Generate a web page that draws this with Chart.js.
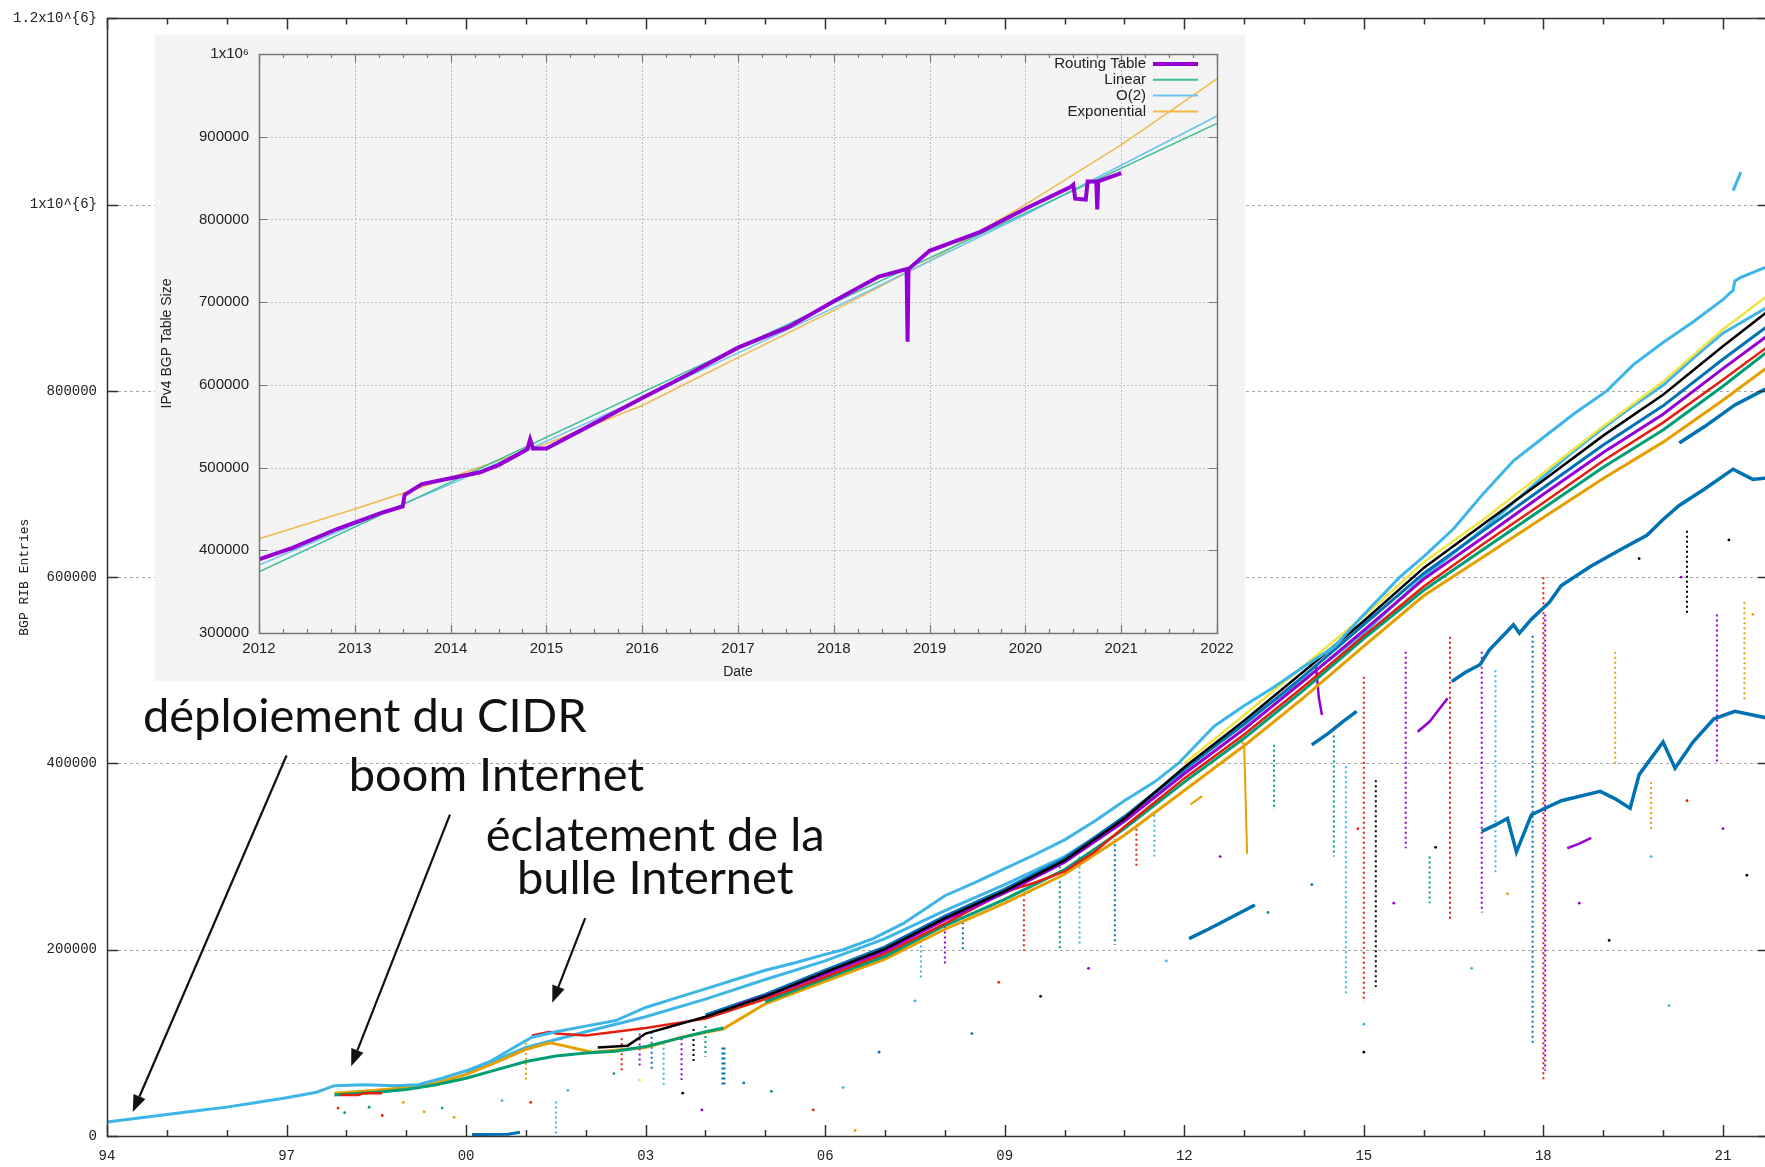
<!DOCTYPE html>
<html lang="fr">
<head>
<meta charset="utf-8">
<title>BGP RIB Entries</title>
<script src="https://cdn.jsdelivr.net/npm/chart.js@4.4.1/dist/chart.umd.min.js"></script>
<style>
  html, body { margin:0; padding:0; background:#fff; overflow:hidden; }
  #wrap { position:relative; width:1765px; height:1167px; overflow:hidden; }
  #main { position:absolute; left:0; top:0; }
  #inset { position:absolute; left:155px; top:35px; }
</style>
</head>
<body>
<div id="wrap">
  <canvas id="main" width="1775" height="1167"></canvas>
  <canvas id="inset" width="1090" height="646"></canvas>
</div>
<script>
// ---------- Main chart: axes ----------
const yearTicks      = [1994, 1997, 2000, 2003, 2006, 2009, 2012, 2015, 2018, 2021];
const yearTickLabels = ['94', '97', '00', '03', '06', '09', '12', '15', '18', '21'];
const entryTicks      = [0, 200000, 400000, 600000, 800000, 1000000, 1200000];
const entryTickLabels = ['0', '200000', '400000', '600000', '800000', '1x10^{6}', '1.2x10^{6}'];

// ---------- Main chart: peers (year, thousands of entries) ----------
const skyTop = [[1994.0,15],[1994.5,19],[1995,23],[1995.5,27],[1996,31],[1996.5,36],[1997,41],[1997.5,47],[1997.8,54],[1998.3,55],[1998.8,54],[1999.2,55],[1999.6,62],[2000,70],[2000.4,80],[2000.8,95],[2001.1,106],[2001.5,112],[2002,118],[2002.5,124],[2003,138],[2003.5,148],[2004,158],[2004.5,168],[2005,178],[2005.5,186],[2006,195],[2006.3,200],[2006.8,212],[2007.3,228],[2008,258],[2008.5,272],[2009,287],[2009.5,302],[2010,318],[2010.5,338],[2011,360],[2011.5,380],[2011.9,400],[2012.5,440],[2013,462],[2013.5,482],[2014,504],[2014.5,525],[2015,560],[2015.6,600],[2016,622],[2016.5,652],[2017,690],[2017.5,725],[2018,750],[2018.5,775],[2019.06,800],[2019.5,828],[2020,852],[2020.5,874],[2021,898],[2021.17,908],[2021.2,918],[2021.3,922],[2021.8,935]];
const skyHigh = [[2021.17,1015],[2021.3,1035]];
const skyBundle = [[2000,68],[2001,95],[2002,112],[2003,128],[2004,147],[2005,168],[2006,188],[2007,212],[2008,242],[2009,270],[2010,300],[2011,340],[2012,392],[2013,445],[2014,490],[2015,540],[2016,600],[2017,652],[2017.5,680],[2018,708],[2018.5,735],[2019,760],[2019.5,784],[2020,806],[2020.5,835],[2021,862],[2021.8,892]];
const purplePeer = [[2004.5,140],[2005,150],[2006,174],[2007,199],[2008,232],[2009,261],[2010,294],[2011,338],[2012,389],[2013,437],[2014,489],[2015,543],[2016,598],[2017,643],[2018,689],[2019,734],[2020,775],[2021,824],[2021.8,862]];
const bluePeer   = [[2004,130],[2005,152],[2006,178],[2007,203],[2008,236],[2009,265],[2010,298],[2011,343],[2012,394],[2013,442],[2014,494],[2015,549],[2016,604],[2017,650],[2018,696],[2019,742],[2020,784],[2021,834],[2021.8,872]];
const blackPeer  = [[2002.2,95],[2002.7,97],[2003,110],[2004,128],[2005,150],[2006,176],[2007,201],[2008,234],[2009,263],[2010,296],[2011,341],[2012,396],[2013,446],[2014,499],[2015,553],[2016,610],[2017,657],[2018,704],[2019,752],[2020,796],[2021,848],[2021.8,888]];
const yellowPeer = [[2012,400],[2013,452],[2014,505],[2015,558],[2016,616],[2017,662],[2018,712],[2019,762],[2020,810],[2021,866],[2021.8,905]];
const redPeer    = [[1997.9,44],[1998.2,44],[1998.3,46],[1998.6,46],[1998.65,null],[2001.1,108],[2001.4,112],[2001.5,110],[2002,108],[2003,116],[2004,126],[2005,147],[2006,171],[2007,196],[2008,228],[2008.5,245],[2009,262],[2009.5,272],[2010,284],[2010.5,305],[2011,332],[2012,384],[2013,431],[2014,483],[2015,537],[2016,590],[2017,636],[2018,680],[2019,725],[2020,766],[2021,812],[2021.8,850]];
const greenPeer  = [[1997.8,44],[1998.5,47],[1999,50],[1999.5,55],[2000,62],[2000.5,71],[2001,80],[2001.5,86],[2002,89],[2002.5,91],[2003,96],[2003.5,104],[2004,112],[2004.3,116],[2004.4,null],[2005,144],[2006,169],[2007,193],[2008,226],[2009,254],[2010,286],[2011,330],[2012,380],[2013,427],[2014,479],[2015,534],[2016,586],[2017,630],[2018,674],[2019,718],[2020,758],[2021,805],[2021.8,845]];
const orangePeer = [[1997.8,46],[1998.5,49],[1999,52],[1999.5,57],[2000,66],[2000.5,79],[2001,93],[2001.4,100],[2001.7,96],[2002.1,90],[2002.5,92],[2003,95],[2003.6,106],[2004.3,115],[2005,142],[2006,166],[2007,190],[2008,222],[2009,250],[2010,281],[2011,323],[2012,371],[2013,419],[2014,471],[2015,526],[2016,580],[2017,622],[2018,664],[2019,706],[2020,745],[2021,790],[2021.8,828]];
const orangeDrop = [[2012.1,356],[2012.3,365],[2012.35,null],[2012.95,425],[2013.0,420],[2013.05,303]];
const purpleBranch = [[2014.2,505],[2014.25,470],[2014.3,452],[2014.35,null],[2015.9,434],[2016.1,445],[2016.4,470],[2016.45,null],[2018.4,309],[2018.6,314],[2018.8,320]];
const blueLow2000 = [[2000.1,1.5],[2000.7,2],[2000.9,4]];
const blueSeg2012 = [[2012.08,212],[2012.4,222],[2012.7,232],[2013.18,248]];
const blueSeg2014 = [[2014.13,420],[2014.4,432],[2014.65,445],[2014.88,456]];
const blueMid = [[2016.47,488],[2016.7,498],[2016.94,506],[2017.1,522],[2017.5,549],[2017.6,540],[2017.8,555],[2018.1,573],[2018.3,591],[2018.8,612],[2019.3,630],[2019.73,645],[2020.0,662],[2020.27,677],[2020.7,695],[2021.17,716],[2021.5,705],[2021.8,707]];
const blueUpper = [[2020.27,744],[2020.7,762],[2021.2,785],[2021.8,805]];
const blueLow = [[2016.97,327],[2017.2,334],[2017.4,341],[2017.55,305],[2017.8,345],[2018.3,360],[2018.95,370],[2019.2,362],[2019.45,352],[2019.6,388],[2020.0,423],[2020.2,395],[2020.5,423],[2020.85,448],[2021.2,456],[2021.8,448]];

// short outages (vertical dotted columns)
const spikeYears   = [2018.0, 2018.03, 2017.82, 2015.7, 2015.2, 2015.0, 2014.7, 2014.5, 2016.44, 2016.97, 2017.2, 2021.36, 2020.9, 2019.2, 2013.5, 2010.84, 2009.32, 2009.92, 2010.25, 2001.0, 2001.5, 2003.3, 2003.6, 2002.6, 2002.9, 2003.1, 2003.8, 2004.0, 2007.6, 2008.0, 2008.3, 2011.2, 2011.5, 2016.1, 2019.8, 2020.4, 2004.3];
const spikeTops    = [600, 560, 537, 520, 382, 493, 397, 430, 536, 520, 500, 573, 560, 520, 420, 324, 281, 295, 300, 100, 37, 100, 105, 105, 110, 112, 115, 118, 210, 225, 235, 330, 345, 300, 380, 650, 95];
const spikeBottoms = [60, 70, 98, 309, 160, 144, 150, 300, 232, 240, 280, 466, 400, 400, 350, 205, 199, 200, 205, 60, 2, 55, 60, 70, 75, 70, 80, 85, 170, 185, 200, 290, 300, 250, 330, 560, 55];
const spikeColors  = ['red', 'purple', 'blue', 'purple', 'black', 'red', 'sky', 'green', 'red', 'purple', 'sky', 'orange', 'purple', 'orange', 'green', 'blue', 'red', 'green', 'sky', 'orange', 'sky', 'sky', 'purple', 'red', 'purple', 'blue', 'black', 'green', 'sky', 'purple', 'blue', 'red', 'sky', 'green', 'orange', 'black', 'blue'];

// isolated dots
const dotYears  = [1997.86, 1997.97, 1998.38, 1998.6, 1998.95, 1999.3, 1999.6, 1999.8, 2000.6, 2001.08, 2001.7, 2002.47, 2002.9, 2003.62, 2003.94, 2004.64, 2005.1, 2005.8, 2006.3, 2006.5, 2006.9, 2007.5, 2008.45, 2008.9, 2009.6, 2010.4, 2011.7, 2012.6, 2013.4, 2014.13, 2014.9, 2015.5, 2016.2, 2016.8, 2017.4, 2018.6, 2019.1, 2019.8, 2020.4, 2021.0, 2021.4, 2020.1, 2015.0, 2015.0, 2019.6, 2020.3, 2021.1, 2021.5];
const dotValues = [30, 25, 31, 22, 36, 26, 30, 20, 38, 36, 49, 67, 60, 46, 28, 57, 48, 28, 52, 6, 90, 145, 110, 165, 150, 180, 188, 300, 240, 270, 330, 250, 310, 180, 260, 250, 210, 300, 360, 330, 280, 140, 120, 90, 620, 600, 640, 560];
const dotColors = ['red', 'green', 'green', 'red', 'orange', 'orange', 'green', 'orange', 'sky', 'red', 'sky', 'green', 'yellow', 'black', 'purple', 'blue', 'green', 'red', 'sky', 'orange', 'blue', 'sky', 'blue', 'red', 'black', 'purple', 'sky', 'purple', 'green', 'blue', 'red', 'purple', 'black', 'sky', 'orange', 'purple', 'black', 'sky', 'red', 'purple', 'black', 'sky', 'sky', 'black', 'black', 'purple', 'black', 'orange'];

// annotations
const noteTexts = ['déploiement du CIDR', 'boom Internet', 'éclatement de la', 'bulle Internet'];
const noteX     = [1994.6, 1998.04, 2003.16, 2003.16];
const noteY     = [450000, 387000, 322000, 276000];
const noteAlign = ['left', 'left', 'center', 'center'];
const arrowFrom = [[1997.0, 408600], [1999.73, 345000], [2001.99, 234000]];
const arrowTo   = [[1994.43, 25700], [1998.08, 74900], [2001.44, 143000]];

// ---------- Inset: IPv4 BGP table 2012-2021 ----------
const insetYearTicks  = [2012, 2013, 2014, 2015, 2016, 2017, 2018, 2019, 2020, 2021, 2022];
const insetYearLabels = ['2012', '2013', '2014', '2015', '2016', '2017', '2018', '2019', '2020', '2021', '2022'];
const insetSizeTicks  = [300000, 400000, 500000, 600000, 700000, 800000, 900000, 1000000];
const insetSizeLabels = ['300000', '400000', '500000', '600000', '700000', '800000', '900000', '1x10⁶'];
const insetSeriesNames = ['Routing Table', 'Linear', 'O(2)', 'Exponential'];
const routingTable = [[2012.0,389],[2012.35,403],[2012.82,426],[2013.3,446],[2013.5,453],[2013.52,467],[2013.7,480],[2014.0,487],[2014.3,494],[2014.5,503],[2014.8,522],[2014.83,534],[2014.86,523],[2015.0,523],[2015.41,548],[2016.0,584],[2016.47,612],[2017.0,645],[2017.53,670],[2018.0,701],[2018.47,731],[2018.76,740],[2018.77,652],[2018.78,740],[2019.0,762],[2019.53,785],[2020.0,813],[2020.47,839],[2020.5,842],[2020.52,825],[2020.63,824],[2020.65,846],[2020.74,846],[2020.75,812],[2020.76,846],[2021.0,856]];
const linearFit = [[2012,374],[2022,916]];
const quadFit   = [[2012,382],[2014,480],[2016,584],[2018,693],[2020,806],[2022,925]];
const expFit    = [[2012,414],[2013,450],[2014,488],[2015,529],[2016,575],[2017,633],[2018,690],[2019,750],[2020,818],[2021,890],[2022,970]];

// ---------- style ----------
const COL = { purple:'#9400d3', green:'#009e73', sky:'#3db5e7', orange:'#e69f00', yellow:'#f0e442', blue:'#0072b2', red:'#e51e10', black:'#000000' };
const MONO = '"Liberation Mono", "DejaVu Sans Mono", monospace';
const SANS = '"Liberation Sans", Arial, sans-serif';
const K = 1000;
const toPts = arr => arr.map(([x, v]) => [x, v === null ? null : v * K]);

function lineDs(data, color, width, extra){
  return Object.assign({
    type:'line', data: toPts(data), borderColor: color, backgroundColor: color,
    borderWidth: width, pointRadius: 0, spanGaps: false, fill: false, tension: 0
  }, extra || {});
}

// frame, inward ticks and dotted grid, gnuplot style
const framePlugin = {
  id: 'frame',
  beforeDatasetsDraw(chart, args, o){
    const {ctx, chartArea: a, scales: {x, y}} = chart;
    ctx.save();
    ctx.strokeStyle = o.gridColor; ctx.lineWidth = 1; ctx.setLineDash(o.dash);
    ctx.beginPath();
    (o.gridX || []).forEach(v => {
      const px = Math.round(x.getPixelForValue(v)) + 0.5;
      ctx.moveTo(px, a.top + o.gridInset); ctx.lineTo(px, a.bottom - o.gridInset);
    });
    (o.gridY || []).forEach(v => {
      const py = Math.round(y.getPixelForValue(v)) + 0.5;
      ctx.moveTo(a.left + o.gridInset, py); ctx.lineTo(a.right - o.gridInset, py);
    });
    ctx.stroke();
    ctx.restore();
  },
  afterDatasetsDraw(chart, args, o){
    const {ctx, chartArea: a, scales: {x, y}} = chart;
    ctx.save();
    ctx.strokeStyle = o.frameColor; ctx.lineWidth = o.tickWidth;
    ctx.beginPath();
    const xt = (v, len) => { const px = Math.round(x.getPixelForValue(v)) + 0.5;
      ctx.moveTo(px, a.bottom); ctx.lineTo(px, a.bottom - len);
      ctx.moveTo(px, a.top); ctx.lineTo(px, a.top + len); };
    const yt = (v, len) => { const py = Math.round(y.getPixelForValue(v)) + 0.5;
      ctx.moveTo(a.left, py); ctx.lineTo(a.left + len, py);
      ctx.moveTo(a.right, py); ctx.lineTo(a.right - len, py); };
    (o.xMinor || []).forEach(v => xt(v, o.minorLen));
    (o.xMajor || []).forEach(v => xt(v, o.majorLen));
    (o.yMajor || []).forEach(v => yt(v, o.majorLen));
    ctx.stroke();
    ctx.lineWidth = o.frameWidth;
    ctx.strokeRect(Math.round(a.left) + 0.5, Math.round(a.top) + 0.5, Math.round(a.right - a.left), Math.round(a.bottom - a.top));
    // axis titles
    ctx.fillStyle = o.titleColor;
    ctx.font = o.titleFont;
    ctx.textAlign = 'center'; ctx.textBaseline = 'middle';
    if (o.xTitle) ctx.fillText(o.xTitle, (a.left + a.right) / 2, a.bottom + o.xTitleOffset);
    if (o.yTitle){
      ctx.translate(o.yTitleX, (a.top + a.bottom) / 2);
      ctx.rotate(-Math.PI / 2);
      ctx.fillText(o.yTitle, 0, 0);
    }
    ctx.restore();
  }
};

// annotations with arrows on the main chart
const notesPlugin = {
  id: 'notes',
  afterDraw(chart){
    const {ctx, scales: {x, y}} = chart;
    ctx.save();
    ctx.fillStyle = '#111'; ctx.strokeStyle = '#111';
    ctx.font = '47px Lato, "Open Sans", sans-serif';
    ctx.textBaseline = 'middle';
    noteTexts.forEach((t, i) => {
      ctx.textAlign = noteAlign[i];
      ctx.fillText(t, x.getPixelForValue(noteX[i]), y.getPixelForValue(noteY[i]));
    });
    ctx.lineWidth = 2.2;
    arrowFrom.forEach((f, i) => {
      const x1 = x.getPixelForValue(f[0]), y1 = y.getPixelForValue(f[1]);
      const x2 = x.getPixelForValue(arrowTo[i][0]), y2 = y.getPixelForValue(arrowTo[i][1]);
      const ang = Math.atan2(y2 - y1, x2 - x1), head = 17, half = 6.5;
      const bx = x2 - head * Math.cos(ang), by = y2 - head * Math.sin(ang);
      ctx.beginPath(); ctx.moveTo(x1, y1); ctx.lineTo(bx, by); ctx.stroke();
      ctx.beginPath();
      ctx.moveTo(x2, y2);
      ctx.lineTo(bx + half * Math.sin(ang), by - half * Math.cos(ang));
      ctx.lineTo(bx - half * Math.sin(ang), by + half * Math.cos(ang));
      ctx.closePath(); ctx.fill();
    });
    ctx.restore();
  }
};

// inset legend: text right aligned, sample on the right
const insetLegendPlugin = {
  id: 'insetLegend',
  afterDatasetsDraw(chart){
    const {ctx, chartArea: a} = chart;
    ctx.save();
    ctx.font = '15px ' + SANS;
    ctx.fillStyle = '#222';
    ctx.textAlign = 'right'; ctx.textBaseline = 'middle';
    chart.data.datasets.forEach((ds, i) => {
      const yy = a.top + 10 + i * 15.8;
      ctx.fillText(ds.label, a.right - 71, yy);
      ctx.strokeStyle = ds.borderColor;
      ctx.lineWidth = i === 0 ? 4 : 2;
      ctx.beginPath(); ctx.moveTo(a.right - 64, yy); ctx.lineTo(a.right - 19, yy); ctx.stroke();
    });
    ctx.restore();
  }
};

// ---------- main datasets (first = drawn on top) ----------
const mainDatasets = [
  lineDs(skyTop, COL.sky, 3),
  lineDs(skyHigh, COL.sky, 3),
  lineDs(blackPeer, COL.black, 2.5),
  lineDs(purplePeer, COL.purple, 3),
  lineDs(redPeer, COL.red, 2.5),
  lineDs(bluePeer, COL.blue, 3),
  lineDs(yellowPeer, COL.yellow, 2.5),
  lineDs(greenPeer, COL.green, 3),
  lineDs(orangePeer, COL.orange, 3),
  lineDs(skyBundle, COL.sky, 3),
  lineDs(orangeDrop, COL.orange, 2),
  lineDs(purpleBranch, COL.purple, 2.5),
  lineDs(blueLow2000, COL.blue, 3),
  lineDs(blueSeg2012, COL.blue, 3.5),
  lineDs(blueSeg2014, COL.blue, 3.5),
  lineDs(blueMid, COL.blue, 3.5),
  lineDs(blueUpper, COL.blue, 3.5),
  lineDs(blueLow, COL.blue, 3.5)
];
spikeYears.forEach((yr, i) => {
  mainDatasets.push(lineDs([[yr, spikeTops[i]], [yr, spikeBottoms[i]]], COL[spikeColors[i]],
    i === spikeYears.length - 1 ? 4 : 2, { borderDash: [2, 3] }));
});
mainDatasets.push({
  type: 'scatter', showLine: false,
  data: dotYears.map((yr, i) => [yr, dotValues[i] * K]),
  pointRadius: 1.4, pointBorderWidth: 0,
  pointBackgroundColor: dotColors.map(c => COL[c])
});

new Chart(document.getElementById('main'), {
  type: 'line',
  data: { datasets: mainDatasets },
  options: {
    responsive: false, animation: false, devicePixelRatio: 1,
    layout: { padding: { top: 14, right: 6, left: 0, bottom: 0 } },
    plugins: {
      legend: { display: false }, tooltip: { enabled: false },
      frame: {
        gridY: [200000, 400000, 600000, 800000, 1000000], gridColor: '#a8a8a8', dash: [3, 3], gridInset: 11,
        xMajor: yearTicks, xMinor: yearTicks.flatMap(v => [v + 1, v + 2]),
        yMajor: entryTicks, majorLen: 11, minorLen: 6, tickWidth: 1.5,
        frameColor: '#333', frameWidth: 1.5,
        titleColor: '#222', titleFont: '13px ' + MONO, yTitle: 'BGP RIB Entries', yTitleX: 25
      }
    },
    scales: {
      x: {
        type: 'linear', min: 1994, max: 2021.77,
        grid: { display: false, drawTicks: false }, border: { display: false },
        afterBuildTicks: s => { s.ticks = yearTicks.map(v => ({ value: v })); },
        afterFit: s => { s.height = 31; },
        ticks: { callback: v => yearTickLabels[yearTicks.indexOf(v)] ?? '', font: { family: MONO, size: 14 },
                 color: '#222', padding: 12, maxRotation: 0, autoSkip: false }
      },
      y: {
        type: 'linear', min: 0, max: 1200000,
        grid: { display: false, drawTicks: false }, border: { display: false },
        afterBuildTicks: s => { s.ticks = entryTicks.map(v => ({ value: v })); },
        afterFit: s => { s.width = 107; },
        ticks: { callback: v => entryTickLabels[entryTicks.indexOf(v)] ?? '', font: { family: MONO, size: 14 },
                 color: '#222', padding: 10, autoSkip: false }
      }
    }
  },
  plugins: [framePlugin, notesPlugin]
});

// ---------- inset ----------
const insetCanvas = document.getElementById('inset');
const bgPlugin = {
  id: 'insetBg',
  beforeDraw(chart){ const c = chart.ctx; c.save(); c.fillStyle = '#f4f4f4'; c.fillRect(0, 0, chart.width, chart.height); c.restore(); }
};
const quarterTicks = [];
for (let yr = 2012; yr < 2022; yr++) quarterTicks.push(yr + 0.25, yr + 0.5, yr + 0.75);

new Chart(insetCanvas, {
  type: 'line',
  data: { datasets: [
    lineDs(routingTable, '#9400d3', 4, { label: insetSeriesNames[0] }),
    lineDs(linearFit, '#3dbf9c', 1.5, { label: insetSeriesNames[1] }),
    lineDs(quadFit, '#6cc4ee', 1.5, { label: insetSeriesNames[2] }),
    lineDs(expFit, '#f2b84b', 1.5, { label: insetSeriesNames[3] })
  ]},
  options: {
    responsive: false, animation: false, devicePixelRatio: 1,
    layout: { padding: { top: 17, right: 28, left: 0, bottom: 0 } },
    plugins: {
      legend: { display: false }, tooltip: { enabled: false },
      frame: {
        gridX: insetYearTicks.slice(1, -1), gridY: insetSizeTicks.slice(1, -1),
        gridColor: '#bdbdbd', dash: [2, 2], gridInset: 0,
        xMajor: insetYearTicks, xMinor: quarterTicks, yMajor: insetSizeTicks,
        majorLen: 8, minorLen: 4, tickWidth: 1.2, frameColor: '#777', frameWidth: 1.5,
        titleColor: '#222', titleFont: '14px ' + SANS,
        xTitle: 'Date', xTitleOffset: 39, yTitle: 'IPv4 BGP Table Size', yTitleX: 12
      }
    },
    scales: {
      x: {
        type: 'linear', min: 2012, max: 2022,
        grid: { display: false, drawTicks: false }, border: { display: false },
        afterBuildTicks: s => { s.ticks = insetYearTicks.map(v => ({ value: v })); },
        afterFit: s => { s.height = 48; },
        ticks: { callback: v => insetYearLabels[insetYearTicks.indexOf(v)] ?? '', font: { family: SANS, size: 15 },
                 color: '#222', padding: 7, maxRotation: 0, autoSkip: false }
      },
      y: {
        type: 'linear', min: 300000, max: 1000000,
        grid: { display: false, drawTicks: false }, border: { display: false },
        afterBuildTicks: s => { s.ticks = insetSizeTicks.map(v => ({ value: v })); },
        afterFit: s => { s.width = 104; },
        ticks: { callback: v => insetSizeLabels[insetSizeTicks.indexOf(v)] ?? '', font: { family: SANS, size: 15 },
                 color: '#222', padding: 10, autoSkip: false }
      }
    }
  },
  plugins: [bgPlugin, framePlugin, insetLegendPlugin]
});
</script>
</body>
</html>
